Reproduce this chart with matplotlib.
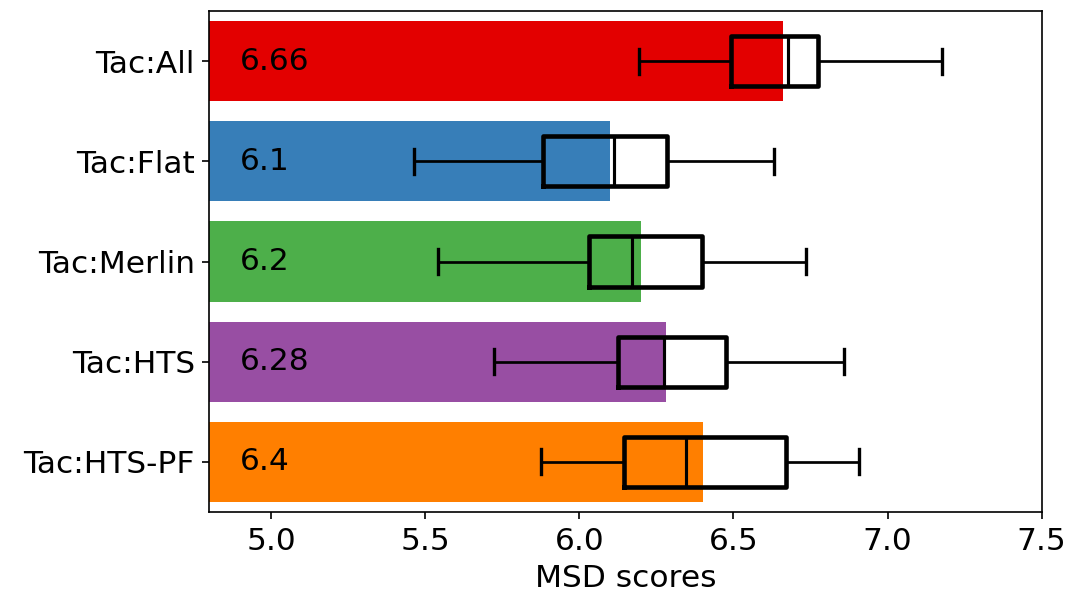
import matplotlib
matplotlib.use("Agg")
import matplotlib.pyplot as plt

plt.rcParams["font.family"] = "DejaVu Sans"
plt.rcParams["font.size"] = 15

# rows listed top to bottom
labels = ["Tac:All", "Tac:Flat", "Tac:Merlin", "Tac:HTS", "Tac:HTS-PF"]
means = [6.66, 6.1, 6.2, 6.28, 6.4]
colors = ["#e30000", "#377eb8", "#4daf4a", "#984ea3", "#ff7f00"]

# box plot summary (whisker low, q1, median, q3, whisker high)
wlo = [6.194, 5.464, 5.542, 5.722, 5.875]
q1 = [6.492, 5.883, 6.032, 6.126, 6.144]
med = [6.676, 6.111, 6.171, 6.274, 6.345]
q3 = [6.775, 6.286, 6.398, 6.475, 6.672]
whi = [7.177, 6.632, 6.735, 6.858, 6.908]

XMIN, XMAX = 4.8, 7.5
n = len(labels)
ypos = list(range(n - 1, -1, -1))

fig = plt.figure(figsize=(1067 / 150, 606 / 150), dpi=150)
ax = fig.add_axes([0.1962, 0.155, 0.7801, 0.8268])

ax.barh(ypos, [m - XMIN for m in means], left=XMIN, height=0.8, color=colors)

for y, m in zip(ypos, means):
    ax.text(XMIN + 0.1, y, f"{m:g}", va="center", ha="left", fontsize=15)

stats = []
for i in range(n):
    stats.append(dict(whislo=wlo[i], q1=q1[i], med=med[i], q3=q3[i],
                      whishi=whi[i], fliers=[]))

ax.bxp(stats, positions=ypos, widths=0.5, vert=False, showfliers=False,
       boxprops=dict(color="black", linewidth=2.2),
       whiskerprops=dict(color="black", linewidth=1.3),
       capprops=dict(color="black", linewidth=1.6),
       medianprops=dict(color="black", linewidth=1.5),
       manage_ticks=False)

ax.set_yticks(ypos)
ax.set_yticklabels(labels)
ax.set_xlim(XMIN, XMAX)
ax.set_ylim(-0.5, n - 0.5)
ax.set_xticks([5.0, 5.5, 6.0, 6.5, 7.0, 7.5])
ax.set_xlabel("MSD scores")

fig.savefig("out.png", dpi=150)
